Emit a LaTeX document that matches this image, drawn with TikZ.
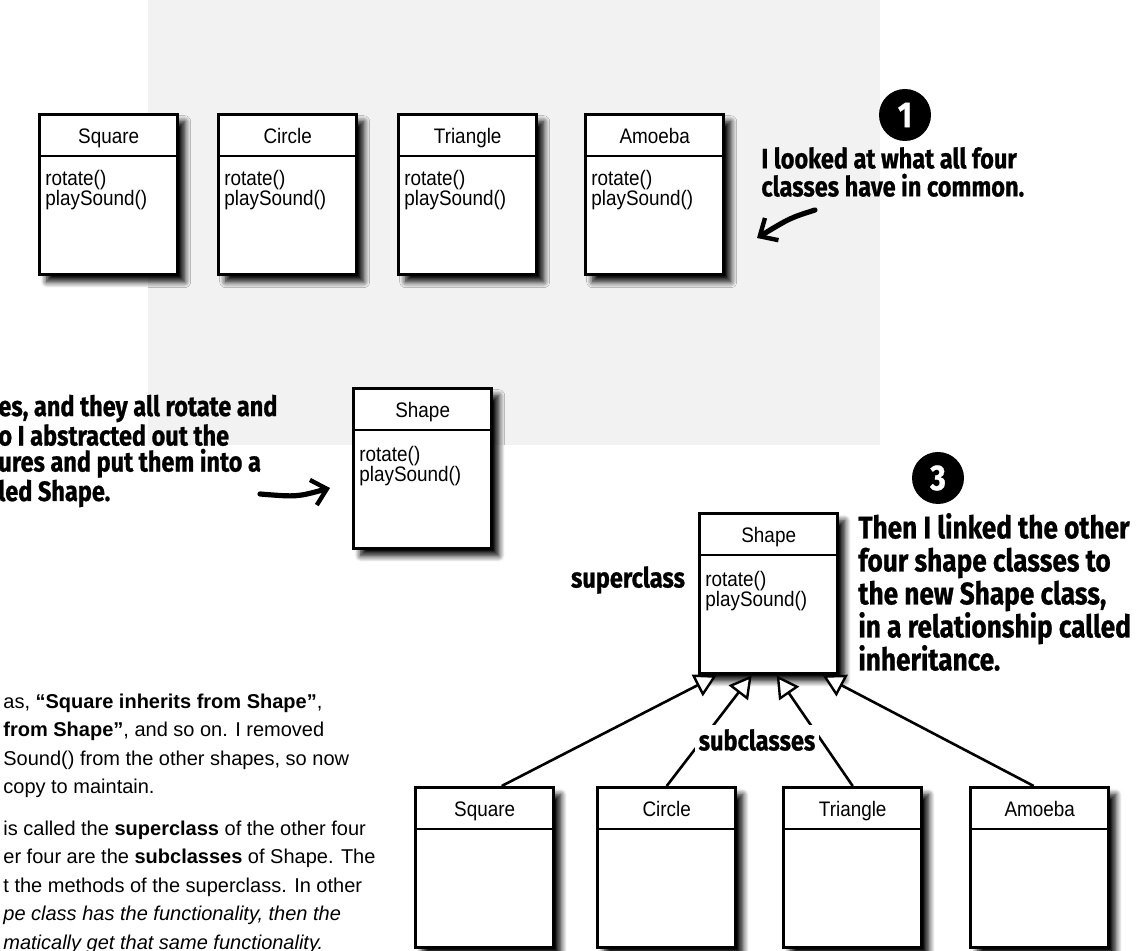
\documentclass[tikz,border=0pt]{standalone}
\usepackage{fontspec}
\setmainfont{Liberation Sans}
\newfontfamily\umlfont{Liberation Sans}[FakeStretch=0.9]
\newfontfamily\handfont{Fira Sans}[FakeStretch=0.84, FakeBold=0.8]
\usetikzlibrary{arrows.meta,shadows.blur}

\tikzset{
  cbox/.style={draw, line width=1.7pt, fill=white, anchor=north west,
               minimum width=69pt, minimum height=80pt, inner sep=0,
               blur shadow={shadow xshift=3.5pt, shadow yshift=-3.5pt,
                            shadow blur radius=3pt, shadow blur steps=8,
                            shadow opacity=100}},
  cname/.style={font=\umlfont\fontsize{10.5}{12}\selectfont, anchor=base, inner sep=0},
  cmeth/.style={font=\umlfont\fontsize{10.5}{12}\selectfont, anchor=base west, inner sep=0},
  hline/.style={line width=1.3pt},
  inherit/.style={line width=1.3pt,
                  -{Triangle[fill=white, length=11pt, width=12pt, line width=1.2pt]}},
  hand/.style={font=\handfont\bfseries\fontsize{14}{14}\selectfont,
               inner sep=0, align=left},
  handarrow/.style={line width=2.6pt, line cap=round,
                    -{Straight Barb[length=7pt, width=13pt, line width=2.2pt]}},
  body/.style={font=\fontsize{10}{14.25}\selectfont, inner sep=0,
               align=left, anchor=west},
  stepnum/.style={circle, fill=black, text=white, minimum size=26pt, inner sep=0,
                  font=\handfont\bfseries\fontsize{18}{18}\selectfont},
}

\begin{document}
\begin{tikzpicture}[x=0.5pt, y=-0.5pt]
    \useasboundingbox (0,0) rectangle (1137,951);
    \fill[black!5] (148,0) rectangle (880,445);

    % ======== STEP 1: four classes ========
    \foreach \i/\bx/\nm in {1/38/Square, 2/217/Circle, 3/397/Triangle, 4/584/Amoeba} {
      \node[cbox] (top\i) at (\bx, 113) {};
      \draw[hline] ([yshift=-21.5pt]top\i.north west) -- ([yshift=-21.5pt]top\i.north east);
      \node[cname] at ([yshift=-15.3pt]top\i.north) {\nm};
      \node[cmeth] at ([xshift=3.5pt, yshift=-36.5pt]top\i.north west) {rotate()};
      \node[cmeth] at ([xshift=3.5pt, yshift=-46.5pt]top\i.north west) {playSound()};
    }
    \node[stepnum] (one) at (905, 115) {1};
    \node[hand, anchor=west, font=\handfont\bfseries\fontsize{14}{14}\selectfont]
      (txtone) at (761, 172) {I looked at what all four\\classes have in common.};
    \coordinate (c1tail) at (815, 210);
    \coordinate (c1tip) at (757, 238);
    \draw[handarrow] (c1tail) .. controls (790, 218) .. (c1tip);

    % ======== STEP 2: abstracted superclass ========
    \node[cbox] (mid) at (352, 387) {};
    \draw[hline] ([yshift=-21.5pt]mid.north west) -- ([yshift=-21.5pt]mid.north east);
    \node[cname] at ([yshift=-15.3pt]mid.north) {Shape};
    \node[cmeth] at ([xshift=3.5pt, yshift=-37.5pt]mid.north west) {rotate()};
    \node[cmeth] at ([xshift=3.5pt, yshift=-47.5pt]mid.north west) {playSound()};
    \node[hand, anchor=west, font=\handfont\bfseries\fontsize{14}{13}\selectfont]
      (txttwo) at (-2, 451)
      {es, and they all rotate and\\o I abstracted out the\\ures and put them into a\\led Shape.};
    \coordinate (c2tail) at (260, 494);
    \coordinate (c2tip) at (330, 488);
    \draw[handarrow] (c2tail) .. controls (297, 497) .. (c2tip);

    % ======== STEP 3: inheritance ========
    \node[stepnum] (three) at (938, 478) {3};
    \node[hand, anchor=west, font=\handfont\bfseries\fontsize{15.6}{16.5}\selectfont]
      (txtthree) at (858, 592)
      {Then I linked the other\\four shape classes to\\the new Shape class,\\in a relationship called\\inheritance.};

    \node[cbox] (super) at (698, 512) {};
    \draw[hline] ([yshift=-21.5pt]super.north west) -- ([yshift=-21.5pt]super.north east);
    \node[cname] at ([yshift=-15.3pt]super.north) {Shape};
    \node[cmeth] at ([xshift=3.5pt, yshift=-37.5pt]super.north west) {rotate()};
    \node[cmeth] at ([xshift=3.5pt, yshift=-47.5pt]super.north west) {playSound()};
    \node[hand] (suplbl) at (628, 580) {superclass};

    \foreach \i/\bx/\nm in {1/414/Square, 2/596/Circle, 3/782/Triangle, 4/969/Amoeba} {
      \node[cbox] (bot\i) at (\bx, 786) {};
      \draw[hline] ([yshift=-21.5pt]bot\i.north west) -- ([yshift=-21.5pt]bot\i.north east);
      \node[cname] at ([yshift=-15.3pt]bot\i.north) {\nm};
    }

    % subclass links, tips spread along the bottom of Shape
    \foreach \i/\dx/\tx in {1/8.5/-26, 2/0/-8.5, 3/0/4, 4/-3/27}
      \draw[inherit] ([xshift=\dx pt]bot\i.north) -- ([xshift=\tx pt]super.south);
    \node[hand, fill=white, inner sep=2pt] (sublbl) at (757, 740) {subclasses};

    % ======== explanation text (cut at the left) ========
    \node[body] (parone) at (3, 746)
      {as, \textbf{“Square inherits from Shape”},\\
       \textbf{from Shape”}, and so on. I removed\\
       Sound() from the other shapes, so now\\
       copy to maintain.};
    \node[body] (partwo) at (3, 887)
      {is called the \textbf{superclass} of the other four\\
       er four are the \textbf{subclasses} of Shape. The\\
       t the methods of the superclass. In other\\
       {\itshape pe class has the functionality, then the}\\
       {\itshape matically get that same functionality.}};
\end{tikzpicture}
\end{document}
